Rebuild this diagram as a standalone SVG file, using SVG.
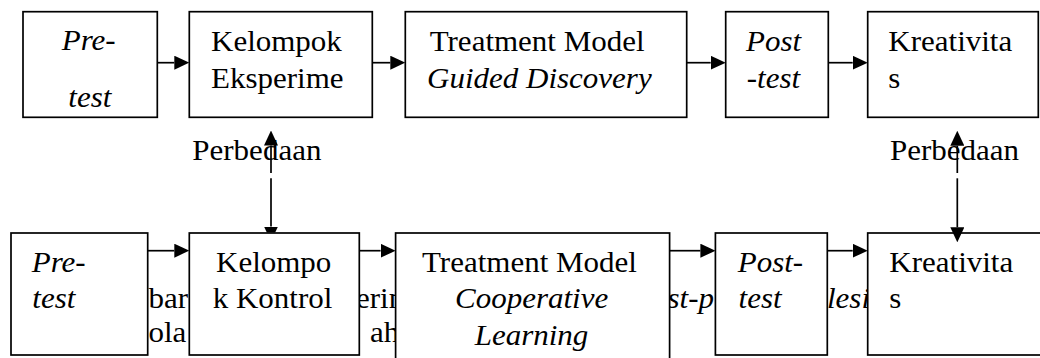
<svg xmlns="http://www.w3.org/2000/svg" width="1040" height="358" viewBox="0 0 1040 358">
<defs>
<style>
text{font-family:"Liberation Serif","Times New Roman",serif;font-size:31px;fill:#000}
.i{font-style:italic}
.box{fill:#fff;stroke:#000;stroke-width:1.7}
.ln{fill:none;stroke:#000;stroke-width:1.7}
</style>
<marker id="ah" markerUnits="userSpaceOnUse" markerWidth="15" markerHeight="14" refX="0" refY="7" orient="auto" viewBox="0 0 15 14">
<path d="M0,0 L15,7 L0,14 z" fill="#000"/>
</marker>
<clipPath id="clipTop"><rect x="250" y="170" width="40" height="62.4"/></clipPath>
</defs>
<rect x="0" y="0" width="1040" height="358" fill="#fff"/>
<g id="background-text">
<text transform="translate(148.5,308.3) scale(1,0.925)">bar</text>
<text transform="translate(148.5,342) scale(1,0.925)">ola</text>
<text transform="translate(356,308.3) scale(1,0.925)">erin</text>
<text transform="translate(370,342) scale(1,0.925)">ah</text>
<text class="i" transform="translate(667.5,308.3) scale(1,0.925)">st-p</text>
<text class="i" transform="translate(827,308.3) scale(1,0.925)">lesi</text>
</g>
<g id="pretest-top">
<rect class="box" x="23" y="11.7" width="134.3" height="105.6"/>
<text class="i" transform="translate(61.7,50.3) scale(1,0.925)">Pre-</text>
<text class="i" transform="translate(68.3,106.7) scale(1,0.925)">test</text>
</g>
<g id="kelompok-eksperimen">
<rect class="box" x="189.3" y="11.7" width="183" height="105.6"/>
<text transform="translate(211,50.7) scale(1,0.925)">Kelompok</text>
<text transform="translate(211,88.3) scale(1,0.925)">Eksperime</text>
</g>
<g id="treatment-gd">
<rect class="box" x="405.3" y="11.7" width="281.4" height="105.6"/>
<text transform="translate(429.7,50.7) scale(1,0.925)">Treatment Model</text>
<text class="i" transform="translate(427,88.3) scale(1,0.925)">Guided Discovery</text>
</g>
<g id="posttest-top">
<rect class="box" x="725.7" y="11.7" width="102.6" height="105.6"/>
<text class="i" transform="translate(746,50.7) scale(1,0.925)">Post</text>
<text class="i" transform="translate(746.7,88.3) scale(1,0.925)">-test</text>
</g>
<g id="kreativitas-top">
<rect class="box" x="867.7" y="11.7" width="170.6" height="105.6"/>
<text transform="translate(888.3,50.7) scale(1,0.925)">Kreativita</text>
<text transform="translate(888.3,88.3) scale(1,0.925)">s</text>
</g>
<g id="pretest-bottom">
<rect class="box" x="11" y="233" width="136.7" height="122"/>
<text class="i" transform="translate(31.7,271.7) scale(1,0.925)">Pre-</text>
<text class="i" transform="translate(32.3,308.3) scale(1,0.925)">test</text>
</g>
<g id="kelompok-kontrol">
<rect class="box" x="189.3" y="233" width="170" height="122"/>
<text transform="translate(216,271.7) scale(1,0.925)">Kelompo</text>
<text transform="translate(212.7,308.3) scale(1,0.925)">k Kontrol</text>
</g>
<g id="treatment-cl">
<rect class="box" x="395.6" y="233" width="274" height="135"/>
<text transform="translate(422,271.7) scale(1,0.925)">Treatment Model</text>
<text class="i" transform="translate(455,308.3) scale(1,0.925)">Cooperative</text>
<text class="i" transform="translate(474.7,345) scale(1,0.925)">Learning</text>
</g>
<g id="posttest-bottom">
<rect class="box" x="715.4" y="233" width="111.9" height="122"/>
<text class="i" transform="translate(737.7,271.7) scale(1,0.925)">Post-</text>
<text class="i" transform="translate(738.6,308.3) scale(1,0.925)">test</text>
</g>
<g id="kreativitas-bottom">
<rect class="box" x="867.7" y="233" width="180" height="122"/>
<text transform="translate(889.3,271.7) scale(1,0.925)">Kreativita</text>
<text transform="translate(889.3,308.3) scale(1,0.925)">s</text>
</g>
<g id="labels">
<text transform="translate(192.3,160) scale(1,0.925)">Perbedaan</text>
<text transform="translate(890,160) scale(1,0.925)">Perbedaan</text>
</g>
<g id="connectors">
<path class="ln" d="M157.3,62.7 H174.3" marker-end="url(#ah)"/>
<path class="ln" d="M372.3,62.7 H390.3" marker-end="url(#ah)"/>
<path class="ln" d="M686.7,62.7 H710.7" marker-end="url(#ah)"/>
<path class="ln" d="M828.3,62.7 H852.7" marker-end="url(#ah)"/>
<path class="ln" d="M147.7,250.7 H174.3" marker-end="url(#ah)"/>
<path class="ln" d="M359.3,250.7 H380.6" marker-end="url(#ah)"/>
<path class="ln" d="M669.6,250.7 H700.4" marker-end="url(#ah)"/>
<path class="ln" d="M827.3,250.7 H852.7" marker-end="url(#ah)"/>
<path class="ln" d="M271,173 V145.5" marker-end="url(#ah)"/>
<g clip-path="url(#clipTop)">
<path class="ln" d="M271,178.3 V226.5" marker-end="url(#ah)"/>
</g>
<path class="ln" d="M957.3,173 V145.7" marker-end="url(#ah)"/>
<path class="ln" d="M957.3,178.3 V227.3" marker-end="url(#ah)"/>
</g>
</svg>
